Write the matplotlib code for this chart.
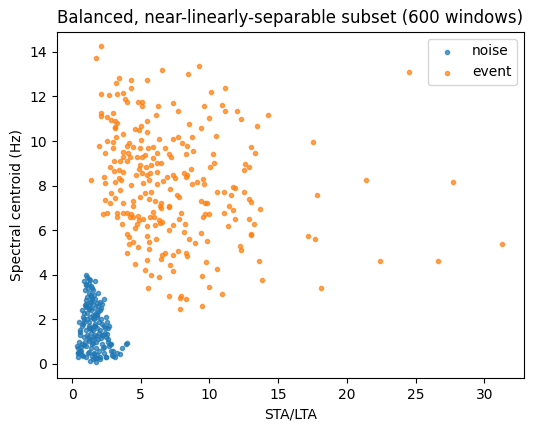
import matplotlib.pyplot as plt

# event windows: (STA/LTA, spectral centroid)
event_x = [2.08, 1.74, 6.57, 9.27, 8.47, 3.44, 3.2, 4.32, 5.48, 4.32, 2.13, 2.72, 3.3, 3.74, 3.88, 4.03, 4.83, 5.1, 5.12, 6.28,
           7.38, 7.74, 10.14, 11.16, 9.63, 10.94, 11.16, 12.04, 12.33, 14.29, 13.49, 10.0, 9.41, 8.54, 6.14,
           2.13, 2.96, 2.13, 2.52, 2.81, 3.1, 3.25, 3.1, 3.15, 3.74, 3.2, 4.61, 5.05, 5.43, 5.48, 4.9, 2.52, 1.94, 3.01, 3.01,
           2.42, 5.05, 6.36, 7.38, 7.69, 7.98, 8.76, 10.48, 13.05, 13.35, 10.29, 10.36, 10.02, 12.57, 12.91, 12.55, 8.83, 8.35,
           8.3, 7.08, 7.23, 6.79, 6.16, 5.87, 5.55, 4.95, 4.46, 4.17, 3.98, 3.74, 4.1, 4.22, 3.69, 3.06, 3.49, 3.98, 4.75, 5.07,
           5.34, 5.92, 6.16, 6.5, 5.77, 5.39, 4.95, 4.85, 5.1, 4.66, 5.43, 5.68, 6.21, 2.76, 3.06, 3.4, 3.74, 1.4, 2.33, 2.38,
           3.15, 3.44, 3.59, 4.32, 5.14, 5.63, 6.16, 6.65, 6.94, 7.47, 7.38, 8.15, 8.3, 8.69, 8.4, 8.74, 9.12, 9.51, 9.61, 3.49,
           2.86, 3.1, 2.38, 2.76, 3.74, 4.41, 4.95, 5.34, 5.73, 5.58, 6.07, 6.5, 7.13, 7.62, 7.81, 10.58, 11.07, 11.74, 11.89,
           11.55, 12.52, 12.91, 13.05, 9.37, 9.66, 9.85, 4.41, 6.4, 7.08, 2.28, 2.57, 3.25, 3.25, 3.74, 3.98, 4.27, 4.46, 4.8,
           4.9, 5.14, 4.22, 5.87, 5.97, 5.68, 6.45, 7.08, 7.96, 7.81, 6.31, 6.55, 3.64, 4.61, 4.75, 5.48, 6.02, 6.4, 7.33, 7.08,
           8.25, 8.15, 9.51, 9.7, 9.95, 11.07, 11.45, 11.74, 11.89, 11.36, 12.86, 13.25, 13.69, 13.01, 13.05, 4.03, 4.12, 5.43,
           6.11, 4.41, 4.17, 5.58, 4.8, 5.63, 4.03, 6.55, 6.79, 7.33, 7.72, 8.3, 8.4, 8.54, 8.98, 9.41, 9.85, 12.23, 12.33, 5.43,
           6.5, 4.56, 7.13, 9.75, 13.64, 5.34, 5.77, 6.36, 7.38, 10.58, 9.46, 13.83, 5.53, 10.0, 7.08, 7.91, 7.86, 8.3, 10.92,
           7.86, 9.46,
           17.55, 17.8, 18.1, 17.2, 17.7, 21.4, 24.5, 22.4, 26.6, 27.7, 31.3]
event_y = [14.26, 13.71, 13.2, 13.36, 13.0, 12.81, 12.59, 12.72, 12.72, 12.36, 12.11, 12.06, 12.11, 12.14, 11.87, 11.73, 11.73, 11.73, 11.57, 11.55,
           11.69, 11.33, 12.18, 12.36, 11.55, 11.6, 11.33, 11.33, 10.97, 11.15, 10.66, 11.02, 10.57, 10.75, 11.15,
           11.24, 11.24, 11.11, 11.06, 10.94, 10.9, 10.79, 10.61, 10.58, 10.3, 10.2, 10.52, 10.66, 10.88, 10.39, 10.49, 9.98, 9.76, 9.94, 9.67,
           9.45, 10.03, 10.08, 10.1, 10.16, 9.93, 10.2, 10.21, 9.72, 9.45, 9.4, 9.0, 8.82, 8.95, 8.82, 8.68, 9.54, 9.76,
           9.42, 9.42, 9.3, 9.67, 9.45, 9.75, 9.67, 9.67, 9.75, 9.9, 9.78, 9.49, 9.45, 9.27, 9.3, 9.09, 9.09, 9.09, 9.27, 9.3,
           9.36, 9.22, 9.03, 9.0, 8.92, 8.82, 8.94, 8.73, 8.58, 8.48, 8.48, 8.55, 8.6, 8.82, 8.67, 8.7, 8.61, 8.25, 8.4, 8.1,
           8.18, 8.33, 8.25, 8.01, 8.1, 8.25, 8.07, 8.22, 8.4, 8.33, 8.48, 8.58, 8.37, 8.73, 8.48, 8.07, 8.16, 8.28, 8.07, 7.8,
           7.65, 7.43, 7.35, 7.2, 7.2, 7.32, 7.5, 7.65, 7.73, 7.38, 7.32, 7.2, 7.83, 7.58, 7.5, 7.73, 7.73, 7.95, 7.88,
           7.59, 7.73, 7.38, 7.25, 7.29, 7.2, 7.23, 7.08, 7.08, 7.08, 6.73, 6.79, 6.76, 6.61, 6.76, 6.76, 6.73, 6.61, 6.64,
           6.46, 6.49, 6.61, 6.83, 6.61, 6.61, 6.98, 7.06, 6.76, 6.49, 6.46, 6.38, 6.28, 6.08, 6.28, 6.19, 6.23, 6.31, 6.23, 6.01,
           6.28, 5.93, 6.58, 6.73, 6.73, 6.76, 7.08, 6.9, 6.49, 6.19, 6.49, 6.28, 6.94, 5.83, 5.77, 5.83, 5.68, 5.74,
           5.59, 5.47, 5.38, 5.45, 5.23, 5.14, 4.96, 4.9, 4.96, 4.89, 5.05, 4.96, 4.84, 5.62, 5.41, 5.89, 5.53, 5.29, 5.11, 4.66,
           4.69, 4.48, 4.42, 4.57, 4.6, 4.21, 3.98, 3.92, 4.16, 4.27, 3.95, 3.77, 3.39, 3.44, 3.05, 3.05, 2.94, 2.9, 3.14,
           2.45, 2.6,
           9.96, 7.6, 3.4, 5.74, 5.6, 8.25, 13.1, 4.6, 4.6, 8.16, 5.38]

# noise windows
noise_x = [1.0, 1.1, 1.2, 0.9, 1.3, 1.05, 1.15, 1.25, 0.95, 1.4, 1.2, 1.5, 1.35, 1.1, 1.6, 1.45, 1.3, 1.7, 1.55, 1.2,
           1.0, 1.8, 1.65, 1.4, 1.9, 1.75, 1.5, 1.1, 2.0, 1.85, 1.6, 1.3, 2.1, 1.95, 1.7, 0.9, 1.2, 2.2, 1.8, 1.5,
           0.8, 1.4, 2.3, 2.05, 1.65, 1.0, 0.7, 1.55, 2.4, 1.9, 1.25, 0.6, 1.75, 2.5, 2.15, 1.45, 0.85, 1.05, 2.6, 2.25,
           1.35, 0.5, 1.95, 2.7, 1.6, 0.75, 1.15, 2.35, 2.8, 1.85, 0.45, 1.0, 2.0, 2.9, 1.5, 0.65, 1.3, 2.45, 3.0, 1.7,
           0.4, 0.9, 2.55, 1.2, 0.55, 1.8, 2.1, 1.4, 0.8, 2.65, 1.6, 1.05, 0.35, 2.2, 1.9, 0.7, 1.25, 2.75, 1.45, 0.95,
           2.3, 1.65, 0.5, 1.1, 2.05, 1.35, 0.6, 1.75, 2.5, 1.0, 0.45, 1.55, 2.15, 1.85, 0.85, 1.3, 2.4, 1.2, 0.4, 1.95,
           1.5, 0.75, 2.6, 1.1, 1.7, 0.55, 2.25, 1.4, 0.9, 2.0, 1.6, 1.15, 2.85, 3.1, 3.3, 3.6, 3.9, 4.0, 3.5, 2.95,
           1.25, 1.45, 1.65, 1.0, 2.35, 1.8, 0.65, 2.7, 1.35, 1.55, 2.1, 0.8, 1.9, 2.45, 1.05, 0.5, 1.75, 2.55, 1.2, 0.95]
noise_y = [4.0, 3.9, 3.8, 3.7, 3.75, 3.55, 3.4, 3.6, 3.3, 3.5, 3.2, 3.3, 3.1, 3.0, 3.1, 2.9, 2.8, 2.9, 2.7, 2.6,
           2.7, 2.75, 2.5, 2.4, 2.6, 2.3, 2.2, 2.3, 2.4, 2.1, 2.0, 2.1, 2.0, 1.9, 1.8, 1.9, 1.7, 1.8, 1.6, 1.5,
           1.8, 1.4, 1.7, 1.5, 1.3, 1.5, 1.7, 1.2, 1.4, 1.1, 1.1, 1.5, 1.0, 1.2, 0.9, 0.9, 1.2, 0.8, 1.0, 0.7,
           0.7, 1.0, 0.6, 0.8, 0.5, 0.9, 0.5, 0.5, 0.6, 0.4, 0.7, 0.3, 0.3, 0.4, 0.2, 0.6, 0.15, 0.3, 0.35, 0.25,
           0.5, 2.0, 1.9, 1.6, 1.3, 2.2, 2.5, 2.8, 2.1, 1.6, 1.7, 2.6, 0.8, 1.3, 3.2, 0.4, 1.9, 0.9, 3.4, 1.0,
           2.9, 2.2, 1.9, 1.3, 0.2, 1.6, 0.6, 0.7, 2.1, 3.6, 0.5, 1.1, 2.7, 0.25, 2.3, 2.5, 1.6, 0.55, 0.3, 1.4,
           0.95, 2.4, 1.1, 2.0, 1.7, 1.45, 1.3, 3.0, 0.85, 2.8, 0.45, 1.2, 0.9, 0.3, 0.5, 0.7, 0.9, 0.95, 0.45, 0.6,
           2.45, 0.35, 3.7, 2.55, 0.75, 1.25, 0.75, 1.7, 1.55, 2.05, 1.15, 0.35, 2.35, 0.3, 2.85, 0.55, 0.1, 1.35, 1.05, 2.65]

fig = plt.figure(figsize=(5.37, 4.3), dpi=100)
ax = fig.add_axes([0.106, 0.121, 0.870, 0.805])
ax.scatter(noise_x, noise_y, s=9, alpha=0.7, color='tab:blue', label='noise')
ax.scatter(event_x, event_y, s=9, alpha=0.7, color='tab:orange', label='event')
ax.set_xlim(-1.1, 32.9)
ax.set_ylim(-0.63, 14.9)
ax.set_xlabel('STA/LTA')
ax.set_ylabel('Spectral centroid (Hz)')
ax.set_title('Balanced, near-linearly-separable subset (600 windows)')
ax.legend(loc='upper right')
fig.savefig('out.png')
